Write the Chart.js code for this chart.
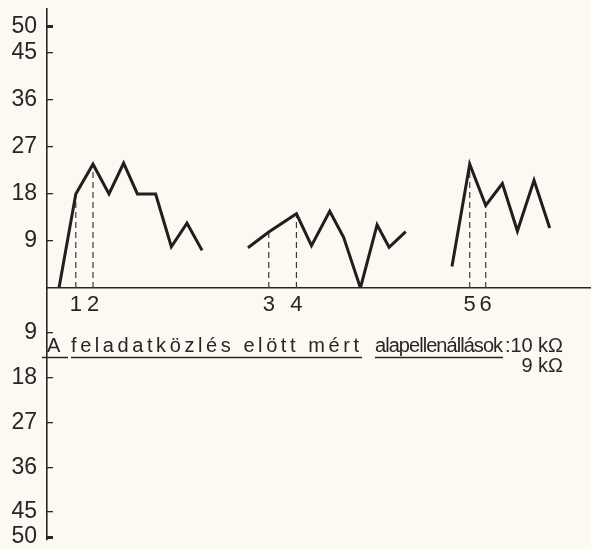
<!DOCTYPE html>
<html>
<head>
<meta charset="utf-8">
<script src="https://cdn.jsdelivr.net/npm/chart.js@4.4.1/dist/chart.umd.min.js"></script>
<style>
  html, body { margin: 0; padding: 0; background: #fbf9f1; }
  #wrap { width: 591px; height: 549px; position: relative; }
</style>
</head>
<body>
<div id="wrap"><canvas id="chart" width="591" height="549"></canvas></div>
<script>
// Skin resistance curves, three recording blocks (time steps / scale units)
const timeA  = [0.75, 1.8, 2.875, 3.875, 4.79, 5.65, 6.79, 7.77, 8.75, 9.69];
const valueA = [0, 18, 23.7, 18, 23.9, 18, 18, 7.9, 12.4, 7.2];

const timeB  = [12.56, 13.86, 15.59, 16.53, 17.67, 18.54, 19.59, 20.63, 21.38, 22.42];
const valueB = [7.7, 10.7, 14.2, 8.1, 14.7, 9.7, 0, 12.1, 7.8, 10.8];

const timeC  = [25.31, 26.42, 27.42, 28.46, 29.4, 30.44, 31.42];
const valueC = [4.1, 23.7, 15.8, 20.0, 10.9, 20.6, 11.5];

// Numbered events marked on the time axis
const eventLabels = ['1', '2', '3', '4', '5', '6'];
const eventTimes  = [1.8, 2.875, 13.86, 15.59, 26.42, 27.42];

// Tick values of the upper and lower scales
const upperTicks = [9, 18, 27, 36, 45, 50];
const lowerTicks = [9, 18, 27, 36, 45, 50];

const ink = '#262626';
const labelFont = '"Liberation Sans", Arial, sans-serif';

function toPoints(xs, ys) {
  return xs.map((x, i) => ({ x: x, y: ys[i] }));
}

// value of the curve at an event time (events sit on curve vertices)
function valueAt(t) {
  const sets = [[timeA, valueA], [timeB, valueB], [timeC, valueC]];
  for (const [xs, ys] of sets) {
    const i = xs.indexOf(t);
    if (i >= 0) return ys[i];
  }
  return 0;
}

const eventLines = [];
eventTimes.forEach(t => {
  eventLines.push({ x: t, y: 0 }, { x: t, y: valueAt(t) }, { x: t, y: null });
});

const curveStyle = {
  borderColor: '#1f1f1f',
  borderWidth: 3,
  pointRadius: 0,
  tension: 0,
  fill: false,
  borderJoinStyle: 'miter',
  yAxisID: 'y'
};

// Hand-lettered caption: each phrase spaced out to its own span
const captionWords = [
  { text: 'A', from: 47, to: 60 },
  { text: 'feladatközlés elött mért', from: 71, to: 359 },
  { text: 'alapellenállások', from: 375, to: 503 },
  { text: ':10 kΩ', from: 505, to: 563 }
];
const captionRules = [[42, 68], [71, 362], [375, 503]];

const captionPlugin = {
  id: 'caption',
  afterDraw(chart) {
    const ctx = chart.ctx;
    ctx.save();
    ctx.fillStyle = ink;
    ctx.strokeStyle = ink;
    ctx.font = '20px ' + labelFont;
    ctx.textBaseline = 'alphabetic';
    const base = 352;
    let ls = 0;
    captionWords.forEach(wd => {
      ctx.letterSpacing = '0px';
      const w = ctx.measureText(wd.text).width;
      const n = wd.text.length;
      ls = n > 1 ? (wd.to - wd.from - w) / (n - 1) : 0;
      ctx.letterSpacing = ls.toFixed(2) + 'px';
      ctx.fillText(wd.text, wd.from, base);
    });
    ctx.lineWidth = 1.5;
    captionRules.forEach(([a, b]) => {
      ctx.beginPath();
      ctx.moveTo(a, base + 5.5);
      ctx.lineTo(b, base + 5.5);
      ctx.stroke();
    });
    const second = '9 kΩ';
    const w2 = ctx.measureText(second).width - ls;
    ctx.fillText(second, 563 - w2, base + 20);
    ctx.restore();
  }
};

function yScale(ticks, max, weight, reverse) {
  return {
    type: 'linear',
    position: 'left',
    stack: 'resistance',
    stackWeight: weight,
    reverse: reverse,
    min: 0,
    max: max,
    afterBuildTicks: s => { s.ticks = ticks.map(v => ({ value: v })); },
    afterFit: s => {
      s.width = 47;
      s.paddingTop = 0;
      s.paddingBottom = 0;
    },
    ticks: {
      color: ink,
      font: { family: labelFont, size: 23 },
      padding: 16,
      autoSkip: false,
      callback: v => String(v)
    },
    grid: {
      drawOnChartArea: false,
      drawTicks: true,
      tickLength: -6,
      color: ink,
      lineWidth: ctx => (ctx.tick && ctx.tick.value === 50 ? 3 : 1.3)
    },
    border: { display: true, color: ink, width: 1.6 }
  };
}

new Chart(document.getElementById('chart'), {
  type: 'line',
  data: {
    datasets: [
      Object.assign({ label: 'A', data: toPoints(timeA, valueA) }, curveStyle),
      Object.assign({ label: 'B', data: toPoints(timeB, valueB) }, curveStyle),
      Object.assign({ label: 'C', data: toPoints(timeC, valueC) }, curveStyle),
      {
        label: 'events',
        data: eventLines,
        borderColor: '#3a3a3a',
        borderWidth: 1.2,
        borderDash: [6, 4],
        pointRadius: 0,
        spanGaps: false,
        yAxisID: 'y'
      }
    ]
  },
  options: {
    responsive: false,
    animation: false,
    devicePixelRatio: 1,
    layout: { padding: { top: 9, bottom: 9, left: 0, right: 0 } },
    plugins: {
      legend: { display: false },
      tooltip: { enabled: false }
    },
    scales: {
      x: {
        type: 'linear',
        min: 0,
        max: 34,
        position: { y: 0 },
        afterBuildTicks: s => { s.ticks = eventTimes.map(v => ({ value: v })); },
        ticks: {
          color: ink,
          font: { family: labelFont, size: 22 },
          padding: 4,
          autoSkip: false,
          maxRotation: 0,
          callback: (v, i) => eventLabels[i]
        },
        grid: { drawOnChartArea: false, drawTicks: false },
        border: { display: true, color: ink, width: 1.6 }
      },
      // lower (reversed) scale listed first so the upper scale is stacked on top
      y2: yScale(lowerTicks, 50.6, 252, true),
      y: yScale(upperTicks, 53.4, 279, false)
    }
  },
  plugins: [captionPlugin]
});
</script>
</body>
</html>
